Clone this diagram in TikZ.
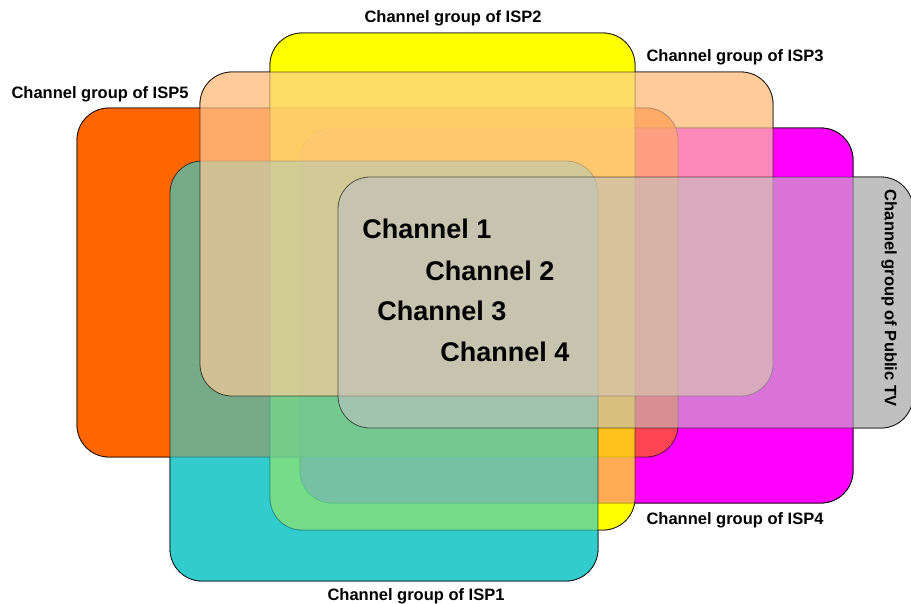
\documentclass[tikz,border=0pt]{standalone}
\usepackage{fontspec}
\setmainfont{Liberation Sans}

\definecolor{ispone}{HTML}{33CCCC}
\definecolor{isptwo}{HTML}{FFFF00}
\definecolor{ispthree}{HTML}{FFCC99}
\definecolor{ispfour}{HTML}{FF00FF}
\definecolor{ispfive}{HTML}{FF6600}
\definecolor{tvgroup}{HTML}{C0C0C0}

\begin{document}
\begin{tikzpicture}[
    x=1pt, y=-1pt,
    group/.style={rounded corners=32pt, line width=0.8pt, draw=black},
    grouplabel/.style={font=\bfseries\fontsize{16.5}{20}\selectfont, inner sep=0pt},
    chanlabel/.style={font=\bfseries\fontsize{27}{32}\selectfont, inner sep=0pt}
]
\useasboundingbox (0,0) rectangle (911,603);

% Groups, solid base (top group first)
\foreach \xa/\ya/\xb/\yb/\col in {338/177/913/428/tvgroup, 200/72/773/396/ispthree,
    170/161/598/581/ispone, 270/33/635/530/isptwo, 77/108/678/457/ispfive,
    300/128/853/503/ispfour}
  \draw[group, fill=\col] (\xa,\ya) rectangle (\xb,\yb);

% Groups, see-through layers (bottom group first)
\foreach \xa/\ya/\xb/\yb/\col/\op in {300/128/853/503/ispfour/1,
    77/108/678/457/ispfive/0.67, 270/33/635/530/isptwo/0.67,
    170/161/598/581/ispone/0.67, 200/72/773/396/ispthree/0.67,
    338/177/913/428/tvgroup/0.6}
  \draw[group, fill=\col, opacity=\op] (\xa,\ya) rectangle (\xb,\yb);

% Group labels
\node[grouplabel] (lblisptwo) at (453,18) {Channel group of ISP2};
\node[grouplabel] (lblispthree) at (735,57) {Channel group of ISP3};
\node[grouplabel] (lblispfive) at (100,94) {Channel group of ISP5};
\node[grouplabel] (lblispfour) at (735,520) {Channel group of ISP4};
\node[grouplabel] (lblispone) at (416,596) {Channel group of ISP1};
\node[grouplabel, rotate=-90] (lbltv) at (889,298) {Channel group of Public TV};

% Channels
\node[chanlabel] (chone) at (427,229) {Channel 1};
\node[chanlabel] (chtwo) at (490,271) {Channel 2};
\node[chanlabel] (chthree) at (442,311) {Channel 3};
\node[chanlabel] (chfour) at (505,352) {Channel 4};

\end{tikzpicture}
\end{document}
